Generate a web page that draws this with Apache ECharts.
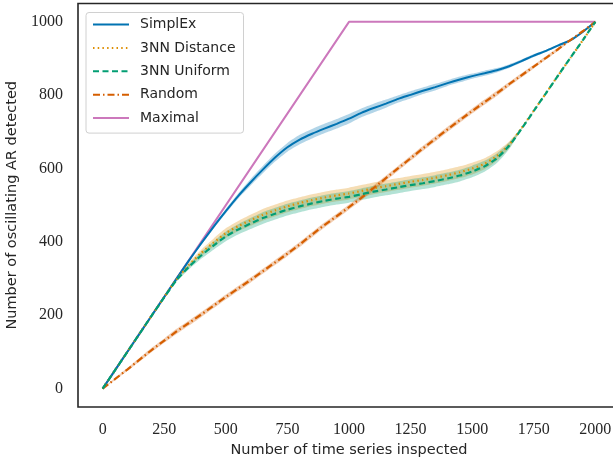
<!DOCTYPE html>
<html>
<head>
<meta charset="utf-8">
<script src="https://cdn.jsdelivr.net/npm/echarts@6/dist/echarts.min.js"></script>
<style>html,body{margin:0;padding:0;background:#fff}#c{width:613px;height:458px}</style>
</head>
<body>
<div id="c"></div>
<script>
// ---- data ----
const xs = [0,50,100,150,200,250,300,350,400,450,500,550,600,650,700,750,800,850,900,950,1000,1050,1100,1150,1200,1250,1300,1350,1400,1450,1500,1550,1600,1650,1700,1750,1800,1850,1900,1950,2000];
const simplex = [0,50,100,150,200,250,300,349,396,441,484,525,562,597,630,658,679,695,709,722,736,752,765,777,790,801,812,822,833,843,852,860,868,879,893,908,921,936,950,973,1000];
const simplexSpread = [0,1,1,2,2,2,3,3,4,5,6,7,9,10,11,12,13,13,13,13,13,12,12,11,10,10,9,9,8,8,7,7,6,5,4,4,3,3,2,2,0];
const nnDist = [0,50,100,150,200,250,298,337,370,398,424,443,459,474,486,497,506,514,521,527,532,539,546,552,558,564,569,575,582,590,600,613,634,665,710,758,806,855,903,951,1000];
const nnDistSpread = [0,1,1,2,2,3,4,7,9,11,13,14,15,16,16,16,16,16,16,16,16,16,16,16,16,16,16,16,16,16,16,15,13,9,2,1,1,1,1,1,0];
const nnUni = [0,50,100,150,200,249,296,332,363,390,415,434,450,465,477,488,497,505,512,518,523,530,537,543,549,555,560,566,573,581,592,606,628,662,708,757,806,855,903,951,1000];
const nnUniSpread = [0,1,1,2,2,3,4,7,9,11,13,14,15,16,16,16,16,16,16,16,16,16,16,16,16,16,16,16,16,16,16,15,13,9,2,1,1,1,1,1,0];
const randomY = [0,26,52,79,106,131,156,179,202,226,250,273,296,320,344,368,393,420,446,470,495,520,547,574,601,628,655,681,707,732,757,781,805,830,854,878,902,926,951,975,1000];
const randomSpread = [0,3,4,5,6,6,7,7,7,7,7,7,7,7,7,7,7,7,7,7,7,7,7,7,7,7,7,7,7,7,7,7,7,6,6,5,5,4,3,2,0];
const maximalX = [0,1000,2000];
const maximalY = [0,1000,1000];
const xTicks = [0,250,500,750,1000,1250,1500,1750,2000];
const yTicks = [0,200,400,600,800,1000];
const names = ['SimplEx','3NN Distance','3NN Uniform','Random','Maximal'];

// ---- build ----
const C = {blue:'#0173b2', orange:'#de8f05', green:'#029e73', red:'#d55e00', pink:'#cc78bc'};
const pairs = (x, y) => x.map((v, i) => [v, y[i]]);
function band(mean, spread, color) {
  const lo = mean.map((v, i) => v - spread[i]);
  const hi = mean.map((v, i) => v + spread[i]);
  return {
    type:'custom', silent:true, z:1,
    data:[[xs[0], mean[0]]],
    renderItem:function(params, api){
      const pts = [];
      for (let i = 0; i < xs.length; i++) pts.push(api.coord([xs[i], hi[i]]));
      for (let i = xs.length - 1; i >= 0; i--) pts.push(api.coord([xs[i], lo[i]]));
      return {type:'polygon', shape:{points:pts, smooth:0.2}, style:{fill:color, opacity:0.3}};
    }
  };
}
const series = [
  band(simplex, simplexSpread, C.blue),
  band(nnDist, nnDistSpread, C.orange),
  band(nnUni, nnUniSpread, C.green),
  band(randomY, randomSpread, C.red),
  {type:'line', name:names[0], data:pairs(xs, simplex), symbol:'none', color:C.blue, smooth:0.2,
   lineStyle:{color:C.blue, width:2}, z:5},
  {type:'line', name:names[1], data:pairs(xs, nnDist), symbol:'none', color:C.orange, smooth:0.2,
   lineStyle:{color:C.orange, width:2.2, type:[1.5,3.2], cap:'butt'}, z:5},
  {type:'line', name:names[2], data:pairs(xs, nnUni), symbol:'none', color:C.green, smooth:0.2,
   lineStyle:{color:C.green, width:2.2, type:[6,3.5]}, z:6},
  {type:'line', name:names[3], data:pairs(xs, randomY), symbol:'none', color:C.red,
   lineStyle:{color:C.red, width:2.2, type:[7,3,1.5,3]}, z:5},
  {type:'line', name:names[4], data:pairs(maximalX, maximalY), symbol:'none', color:C.pink,
   lineStyle:{color:C.pink, width:2}, z:4}
];

const chart = echarts.init(document.getElementById('c'), null, {renderer:'canvas'});
chart.setOption({
  animation:false,
  backgroundColor:'#fff',
  grid:{left:78, top:3.5, height:403.5, width:542, show:true, borderColor:'#262626', borderWidth:1.6,
        containLabel:false, outerBoundsMode:'none'},
  legend:{
    data:names, orient:'vertical', left:86, top:12.5,
    itemWidth:36, itemHeight:14, itemGap:9.4,
    padding:[5,8,8,6],
    backgroundColor:'#fff', borderColor:'#d0d0d0', borderWidth:1, borderRadius:3,
    textStyle:{fontFamily:'DejaVu Sans', fontSize:14, color:'#262626', padding:[0,0,0,6]},
    itemStyle:{opacity:0}
  },
  xAxis:{
    type:'value', min:-100, max:2100,
    axisLine:{show:false}, axisTick:{show:false}, splitLine:{show:false},
    axisLabel:{customValues:xTicks, formatter:v => String(v), fontFamily:'Liberation Serif', fontSize:16, color:'#262626', margin:15},
    name:'Number of time series inspected', nameLocation:'middle', nameGap:35,
    nameTextStyle:{fontFamily:'DejaVu Sans', fontSize:14.5, color:'#262626'}
  },
  yAxis:{
    type:'value', min:-50, max:1050,
    axisLine:{show:false}, axisTick:{show:false}, splitLine:{show:false},
    axisLabel:{customValues:yTicks, formatter:v => String(v), fontFamily:'Liberation Serif', fontSize:16, color:'#262626', margin:15},
    name:'Number of oscillating AR detected', nameLocation:'middle', nameGap:53,
    nameTextStyle:{fontFamily:'DejaVu Sans', fontSize:14.5, color:'#262626'}
  },
  series:series
});
</script>
</body>
</html>
